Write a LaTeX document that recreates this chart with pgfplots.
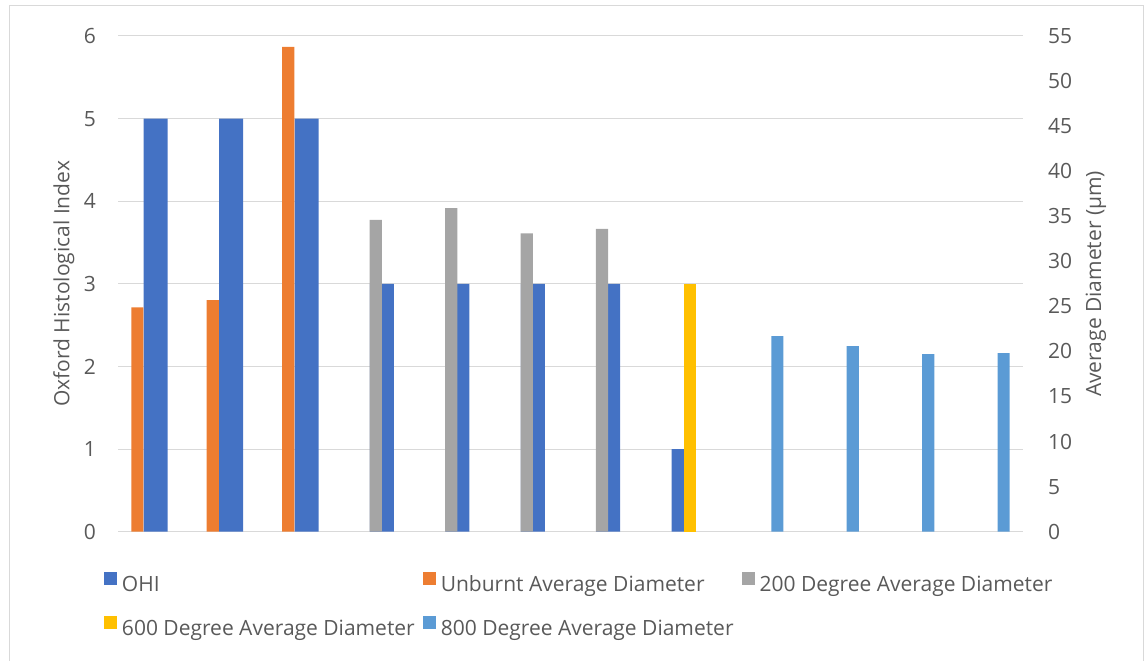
\documentclass[border=0pt]{standalone}
\usepackage{fontspec}
\setmainfont{Open Sans}
\usepackage{pgfplots}
\pgfplotsset{compat=1.18}

\definecolor{ohi}{HTML}{4472C4}
\definecolor{unburnt}{HTML}{ED7D31}
\definecolor{deg200}{HTML}{A5A5A5}
\definecolor{deg600}{HTML}{FFC000}
\definecolor{deg800}{HTML}{5B9BD5}
\definecolor{txt}{HTML}{595959}
\definecolor{gridc}{HTML}{D9D9D9}

\pgfplotsset{
  sqlegend/.style={legend image code/.code={\fill[##1] (0pt,1pt) rectangle (13pt,14pt);}},
  common/.style={
    width=905pt, height=495.7pt, scale only axis,
    at={(118pt,129.3pt)}, anchor=south west,
    xmin=0.5, xmax=12.5, ymin=0,
    xtick=\empty,
    axis line style={draw=none}, major tick length=0pt,
    /pgf/number format/assume math mode=true,
    tick label style={text=txt, inner sep=0pt},
  },
}

\begin{document}
\fontsize{21}{25}\selectfont
\begin{tikzpicture}[x=1pt,y=1pt]
\useasboundingbox (0,0) rectangle (1146,661);
\draw[gridc, line width=1pt] (9,-5) -- (9,655) -- (1143,655) -- (1143,-5);

% left axis: OHI
\begin{axis}[
  common,
  ymax=6, ytick={0,1,...,6},
  ymajorgrids, grid style={gridc, line width=1pt},
  yticklabel style={anchor=east, xshift=-22pt},
  ylabel={Oxford Histological Index},
  ylabel style={at={(axis description cs:-0.0536,0.5)}, anchor=base, text=txt, inner sep=0pt},
]
\addplot[ybar, bar width=0.318, bar shift=0, fill=ohi, draw=none]
  coordinates {(1,5) (2,5) (3,5) (4,3) (5,3) (6,3) (7,3) (8,1)};
\end{axis}

% right axis: average diameter
\begin{axis}[
  common,
  ymax=55, ytick={0,5,...,55},
  yticklabel pos=right,
  yticklabel style={anchor=west, xshift=25pt},
  ylabel={Average Diameter (µm)},
  ylabel style={at={(axis description cs:1.0862,0.5)}, anchor=base, text=txt, inner sep=0pt},
  legend columns=3,
  legend cell align=left,
  legend style={at={(axis description cs:-0.01547,-0.0803)}, anchor=north west,
    draw=none, fill=none, inner sep=0pt, outer sep=0pt,
    nodes={inner sep=0pt, text=txt, text height=15.5pt, text depth=4.5pt},
    /tikz/every odd column/.append style={column sep=5pt},
    /tikz/every even column/.append style={column sep=8pt},
    row sep=20.5pt},
]
\addlegendimage{sqlegend, fill=ohi, draw=none}
\addlegendentry{OHI}
\addplot[ybar, sqlegend, bar width=0.162, bar shift=-0.243, fill=unburnt, draw=none]
  coordinates {(1,24.9) (2,25.7) (3,53.8)};
\addlegendentry{Unburnt Average Diameter}
\addplot[ybar, sqlegend, bar width=0.162, bar shift=-0.081, fill=deg200, draw=none]
  coordinates {(4,34.6) (5,35.9) (6,33.1) (7,33.6)};
\addlegendentry{200 Degree Average Diameter}
\addplot[ybar, sqlegend, bar width=0.162, bar shift=0.081, fill=deg600, draw=none]
  coordinates {(8,27.5)};
\addlegendentry{600 Degree Average Diameter}
\addplot[ybar, sqlegend, bar width=0.162, bar shift=0.243, fill=deg800, draw=none]
  coordinates {(9,21.7) (10,20.6) (11,19.7) (12,19.8)};
\addlegendentry{800 Degree Average Diameter}
\end{axis}
\end{tikzpicture}
\end{document}
